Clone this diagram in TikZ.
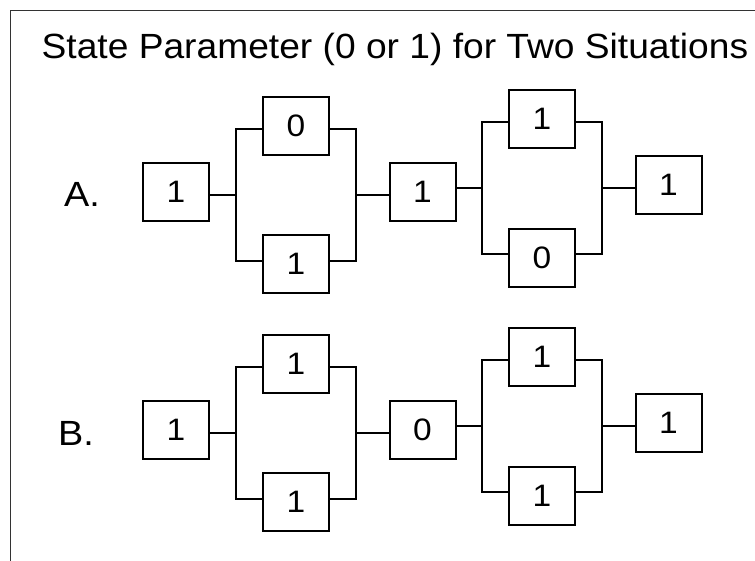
\documentclass[tikz,border=0pt]{standalone}
\usepackage{fontspec}
\setmainfont{Liberation Sans}
\newcommand{\wtxt}[1]{\scalebox{1.08}[1]{#1}}
\begin{document}
\begin{tikzpicture}[x=1pt,y=-1pt,
  cell/.style={draw=black,line width=2pt,minimum width=66pt,minimum height=58pt,inner sep=0pt,font=\fontsize{31}{37}\selectfont},
  wire/.style={draw=black,line width=1.5pt},
  lbl/.style={anchor=base west,inner sep=0pt,font=\fontsize{35}{42}\selectfont},
  frame/.style={draw=black!80,line width=1pt}]
\useasboundingbox (0,0) rectangle (755,560);
\fill[white] (0,0) rectangle (755,560);
\draw[frame] (10,565) -- (10,10) -- (760,10);
\node[lbl] (title) at (41.5,58.3) {\scalebox{1.062}[1]{State Parameter (0 or 1) for Two Situations}};
% ---------- Row A ----------
\node[lbl] (labA) at (64,206.7) {\wtxt{A.}};
\node[cell] (aB1) at (176,191.5) {\wtxt{1}};
\node[cell] (aU1) at (296,125.5) {\wtxt{0}};
\node[cell] (aL1) at (296,264) {\wtxt{1}};
\node[cell] (aM) at (422.5,191.5) {\wtxt{1}};
\node[cell] (aU2) at (542,119) {\wtxt{1}};
\node[cell] (aL2) at (542,257.5) {\wtxt{0}};
\node[cell] (aE) at (668.5,185) {\wtxt{1}};
\coordinate (aJ1) at (236,195);
\coordinate (aP1t) at (236,129);
\coordinate (aP1b) at (236,261);
\coordinate (aJ2) at (356,195);
\coordinate (aP2t) at (356,129);
\coordinate (aP2b) at (356,261);
\coordinate (aJ3) at (482,188);
\coordinate (aP3t) at (482,122);
\coordinate (aP3b) at (482,254);
\coordinate (aJ4) at (602,188);
\coordinate (aP4t) at (602,122);
\coordinate (aP4b) at (602,254);
\draw[wire] (aB1.east |- aJ1) -- (aJ1);
\draw[wire] (aU1.west |- aP1t) -- (aP1t) -- (aP1b) -- (aL1.west |- aP1b);
\draw[wire] (aU1.east |- aP2t) -- (aP2t) -- (aP2b) -- (aL1.east |- aP2b);
\draw[wire] (aJ2) -- (aM.west |- aJ2);
\draw[wire] (aM.east |- aJ3) -- (aJ3);
\draw[wire] (aU2.west |- aP3t) -- (aP3t) -- (aP3b) -- (aL2.west |- aP3b);
\draw[wire] (aU2.east |- aP4t) -- (aP4t) -- (aP4b) -- (aL2.east |- aP4b);
\draw[wire] (aJ4) -- (aE.west |- aJ4);
% ---------- Row B ----------
\node[lbl] (labB) at (58,445) {\wtxt{B.}};
\node[cell] (bB1) at (176,429.5) {\wtxt{1}};
\node[cell] (bU1) at (296,363.5) {\wtxt{1}};
\node[cell] (bL1) at (296,502) {\wtxt{1}};
\node[cell] (bM) at (422.5,429.5) {\wtxt{0}};
\node[cell] (bU2) at (542,357) {\wtxt{1}};
\node[cell] (bL2) at (542,495.5) {\wtxt{1}};
\node[cell] (bE) at (668.5,423) {\wtxt{1}};
\coordinate (bJ1) at (236,433);
\coordinate (bP1t) at (236,367);
\coordinate (bP1b) at (236,499);
\coordinate (bJ2) at (356,433);
\coordinate (bP2t) at (356,367);
\coordinate (bP2b) at (356,499);
\coordinate (bJ3) at (482,426);
\coordinate (bP3t) at (482,360);
\coordinate (bP3b) at (482,492);
\coordinate (bJ4) at (602,426);
\coordinate (bP4t) at (602,360);
\coordinate (bP4b) at (602,492);
\draw[wire] (bB1.east |- bJ1) -- (bJ1);
\draw[wire] (bU1.west |- bP1t) -- (bP1t) -- (bP1b) -- (bL1.west |- bP1b);
\draw[wire] (bU1.east |- bP2t) -- (bP2t) -- (bP2b) -- (bL1.east |- bP2b);
\draw[wire] (bJ2) -- (bM.west |- bJ2);
\draw[wire] (bM.east |- bJ3) -- (bJ3);
\draw[wire] (bU2.west |- bP3t) -- (bP3t) -- (bP3b) -- (bL2.west |- bP3b);
\draw[wire] (bU2.east |- bP4t) -- (bP4t) -- (bP4b) -- (bL2.east |- bP4b);
\draw[wire] (bJ4) -- (bE.west |- bJ4);
\end{tikzpicture}
\end{document}
